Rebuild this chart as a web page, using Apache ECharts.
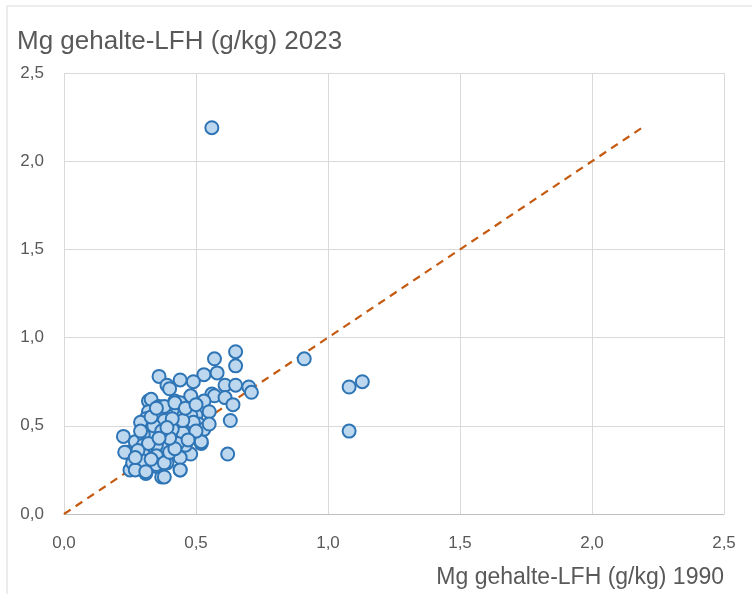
<!DOCTYPE html>
<html>
<head>
<meta charset="utf-8">
<script src="https://cdn.jsdelivr.net/npm/echarts@6/dist/echarts.min.js"></script>
<style>
  html, body { margin: 0; padding: 0; background: #ffffff; }
  #chart { width: 752px; height: 594px; }
</style>
</head>
<body>
<div id="chart"></div>
<script>
// Mg content of the LFH layer (g/kg): 1990 survey vs 2023 survey, one point per plot
const mg1990 = [
  0.56, 0.91, 1.08, 1.13, 1.08, 0.65, 0.57, 0.65, 0.36, 0.44,
  0.53, 0.58, 0.49, 0.39, 0.40, 0.61, 0.65, 0.70, 0.71, 0.56,
  0.57, 0.61, 0.64, 0.48, 0.53, 0.55, 0.63, 0.32, 0.33, 0.36,
  0.42, 0.44, 0.44, 0.41, 0.32, 0.31, 0.29, 0.47, 0.50, 0.51,
  0.53, 0.52, 0.62, 0.225, 0.27, 0.31, 0.24, 0.25, 0.265, 0.31,
  0.37, 0.44, 0.39, 0.35, 0.34, 0.37, 0.38, 0.44, 0.48, 0.46,
  0.47, 0.43, 0.36, 0.39, 0.36, 0.30, 0.34, 0.30, 0.38, 0.42,
  0.48, 0.38, 0.43, 0.49, 0.45, 0.30, 0.35, 0.23, 0.30, 0.35,
  0.26, 0.30, 0.35, 0.27, 0.31, 0.38, 0.44, 0.38, 0.44, 0.52,
  0.43, 0.32, 0.40, 0.41, 0.34, 0.45, 0.50, 0.33, 0.42, 0.28,
  0.40, 0.47, 0.37, 0.27, 0.55, 0.36, 0.46, 0.33, 0.41, 0.29,
  0.39, 0.50, 0.35
];
const mg2023 = [
  2.19, 0.88, 0.72, 0.75, 0.47, 0.92, 0.88, 0.84, 0.78, 0.76,
  0.79, 0.80, 0.75, 0.73, 0.71, 0.73, 0.73, 0.72, 0.69, 0.68,
  0.67, 0.66, 0.62, 0.67, 0.64, 0.58, 0.53, 0.64, 0.65, 0.61,
  0.64, 0.63, 0.58, 0.59, 0.58, 0.54, 0.52, 0.55, 0.56, 0.51,
  0.48, 0.40, 0.34, 0.44, 0.41, 0.44, 0.35, 0.25, 0.29, 0.23,
  0.21, 0.25, 0.29, 0.27, 0.38, 0.39, 0.45, 0.33, 0.34, 0.39,
  0.46, 0.41, 0.51, 0.56, 0.57, 0.46, 0.46, 0.45, 0.61, 0.63,
  0.56, 0.53, 0.51, 0.52, 0.46, 0.39, 0.39, 0.35, 0.34, 0.33,
  0.29, 0.30, 0.28, 0.25, 0.24, 0.29, 0.32, 0.21, 0.25, 0.41,
  0.40, 0.40, 0.35, 0.48, 0.50, 0.53, 0.47, 0.31, 0.37, 0.36,
  0.43, 0.42, 0.47, 0.32, 0.51, 0.43, 0.60, 0.55, 0.54, 0.47,
  0.49, 0.62, 0.60
];
// 1:1 reference line end points
const lineX = [0, 2.2];
const lineY = [0, 2.2];

const xTitle = 'Mg gehalte-LFH (g/kg) 1990';
const yTitle = 'Mg gehalte-LFH (g/kg) 2023';

const points = mg1990.map((x, i) => [x, mg2023[i]]);
const refLine = lineX.map((x, i) => [x, lineY[i]]);

const FONT = '"Liberation Sans", Arial, sans-serif';
const fmt = v => v.toFixed(1).replace('.', ',');

const chart = echarts.init(document.getElementById('chart'), null, { renderer: 'canvas' });
chart.setOption({
  backgroundColor: '#ffffff',
  animation: false,
  title: {
    text: yTitle,
    left: 12,
    top: 24,
    textStyle: { fontFamily: FONT, fontSize: 26, fontWeight: 'normal', color: '#595959' }
  },
  graphic: [{
    type: 'rect',
    shape: { x: 7, y: 6, width: 800, height: 700 },
    style: { fill: 'none', stroke: '#d9d9d9', lineWidth: 1 },
    silent: true
  }],
  grid: { left: 64, right: 28, top: 73, bottom: 80 },
  xAxis: {
    type: 'value',
    min: 0, max: 2.5, interval: 0.5,
    name: xTitle,
    nameLocation: 'end',
    nameGap: 0,
    nameTextStyle: {
      fontFamily: FONT, fontSize: 23, color: '#595959',
      align: 'right', verticalAlign: 'top', padding: [52, 0, 0, 0]
    },
    axisLine: { show: true, lineStyle: { color: '#bfbfbf', width: 1 } },
    axisTick: { show: false },
    axisLabel: { formatter: fmt, fontFamily: FONT, fontSize: 17, color: '#595959', margin: 21 },
    splitLine: { show: true, lineStyle: { color: '#d9d9d9', width: 1 } }
  },
  yAxis: {
    type: 'value',
    min: 0, max: 2.5, interval: 0.5,
    axisLine: { show: false },
    axisTick: { show: false },
    axisLabel: { formatter: fmt, fontFamily: FONT, fontSize: 17, color: '#595959', margin: 20 },
    splitLine: { show: true, lineStyle: { color: '#d9d9d9', width: 1 } }
  },
  series: [
    {
      type: 'line',
      data: refLine,
      symbol: 'none',
      z: 1,
      lineStyle: { color: '#c55a11', width: 2.2, type: [8, 6] }
    },
    {
      type: 'scatter',
      data: points,
      symbol: 'circle',
      symbolSize: 13,
      z: 2,
      itemStyle: { color: '#bdd7ee', borderColor: '#2e75b6', borderWidth: 2, opacity: 1 }
    }
  ]
});
</script>
</body>
</html>
